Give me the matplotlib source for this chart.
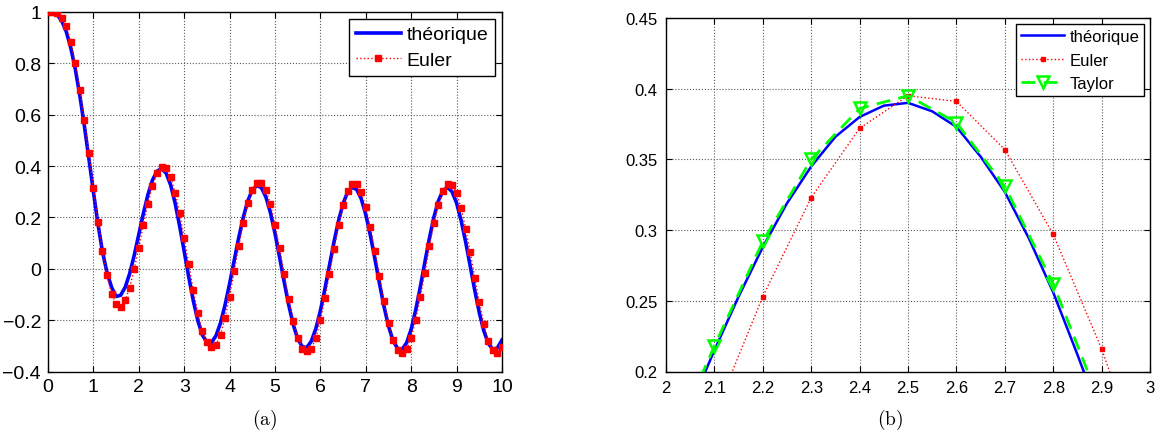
import numpy as np
import matplotlib
matplotlib.use("Agg")
import matplotlib.pyplot as plt

plt.rcParams['font.family'] = ['Liberation Sans', 'DejaVu Sans']
plt.rcParams['mathtext.fontset'] = 'cm'

# sampling times (step 0.1 on [0, 10])
t = np.linspace(0, 10, 101)

# theoretical solution
theo = [1.000, 0.999, 0.990, 0.966, 0.925, 0.862, 0.779, 0.676, 0.558, 0.430,    # 0.0 - 0.9
        0.300, 0.175, 0.066, -0.015, -0.072, -0.108, -0.103, -0.072, -0.018, 0.053,  # 1.0 - 1.9
        0.134, 0.215, 0.288, 0.345, 0.380, 0.390, 0.373, 0.327, 0.256, 0.166,    # 2.0 - 2.9
        0.068, -0.032, -0.124, -0.202, -0.258, -0.286, -0.287, -0.261, -0.211, -0.141,  # 3.x
        -0.058, 0.031, 0.120, 0.199, 0.264, 0.307, 0.324, 0.316, 0.279, 0.218,   # 4.x
        0.138, 0.046, -0.049, -0.139, -0.216, -0.273, -0.303, -0.307, -0.282, -0.233,  # 5.x
        -0.163, -0.078, 0.014, 0.105, 0.187, 0.254, 0.299, 0.317, 0.309, 0.272,  # 6.x
        0.211, 0.131, 0.039, -0.056, -0.146, -0.223, -0.280, -0.310, -0.314, -0.288,  # 7.x
        -0.235, -0.160, -0.071, 0.025, 0.118, 0.201, 0.265, 0.305, 0.317, 0.300,  # 8.x
        0.256, 0.188, 0.104, 0.010, -0.084, -0.171, -0.242, -0.291, -0.314, -0.308,  # 9.x
        -0.277]

# explicit Euler scheme
euler = [1.000, 1.000, 0.995, 0.978, 0.945, 0.884, 0.800, 0.698, 0.580, 0.450,
         0.313, 0.184, 0.068, -0.026, -0.098, -0.138, -0.147, -0.122, -0.073, 0.001,
         0.082, 0.169, 0.253, 0.323, 0.372, 0.395, 0.391, 0.357, 0.297, 0.216,
         0.119, 0.018, -0.083, -0.173, -0.244, -0.287, -0.306, -0.296, -0.256, -0.190,
         -0.108, -0.010, 0.087, 0.177, 0.256, 0.308, 0.336, 0.336, 0.308, 0.252,
         0.171, 0.080, -0.019, -0.118, -0.203, -0.269, -0.312, -0.322, -0.312, -0.269,
         -0.200, -0.113, -0.019, 0.078, 0.171, 0.249, 0.304, 0.330, 0.330, 0.299,
         0.240, 0.162, 0.070, -0.027, -0.126, -0.212, -0.277, -0.316, -0.329, -0.313,
         -0.268, -0.199, -0.110, -0.017, 0.087, 0.177, 0.249, 0.301, 0.330, 0.327,
         0.295, 0.236, 0.155, 0.065, -0.036, -0.131, -0.216, -0.281, -0.316, -0.329,
         -0.306]

# zoom (b): finer theoretical curve and Taylor scheme
t_fine = np.linspace(2, 3, 21)
theo_fine = [0.134, 0.175, 0.215, 0.253, 0.288, 0.319, 0.345, 0.366, 0.380, 0.388,
             0.390, 0.384, 0.373, 0.352, 0.327, 0.294, 0.256, 0.212, 0.166, 0.117, 0.068]
t_taylor = np.linspace(2, 3, 11)
taylor = [0.140, 0.218, 0.292, 0.350, 0.386, 0.395, 0.376, 0.331, 0.262, 0.175, 0.080]

xticks_a = np.arange(0, 11, 1)
yticks_a = [-0.4, -0.2, 0, 0.2, 0.4, 0.6, 0.8, 1]
yticklabels_a = ['\u22120.4', '\u22120.2', '0', '0.2', '0.4', '0.6', '0.8', '1']
xticks_b = [2, 2.1, 2.2, 2.3, 2.4, 2.5, 2.6, 2.7, 2.8, 2.9, 3]
xticklabels_b = ['2', '2.1', '2.2', '2.3', '2.4', '2.5', '2.6', '2.7', '2.8', '2.9', '3']
yticks_b = [0.2, 0.25, 0.3, 0.35, 0.4, 0.45]
yticklabels_b = ['0.2', '0.25', '0.3', '0.35', '0.4', '0.45']

BLUE = (0, 0, 1)
RED = (1, 0, 0)
GREEN = (0, 1, 0)

fig = plt.figure(figsize=(11.61, 4.39), dpi=100)
ax1 = fig.add_axes([48/1161, 66.5/439, 454/1161, 359.5/439])
ax2 = fig.add_axes([666/1161, 66.5/439, 484/1161, 353.5/439])

# (a)
ax1.plot(t, theo, color=BLUE, lw=2.6, label='théorique', zorder=3)
ax1.plot(t, euler, color=RED, ls=':', lw=1.0, marker='s', ms=4.5, mfc=RED, mec=RED,
         label='Euler', zorder=4)
ax1.set_xlim(0, 10)
ax1.set_ylim(-0.4, 1)
ax1.set_xticks(xticks_a)
ax1.set_yticks(yticks_a)
ax1.set_yticklabels(yticklabels_a)
ax1.tick_params(direction='in', top=True, right=True, length=4, labelsize=14, pad=5)
leg1 = ax1.legend(loc='upper right', fontsize=14, fancybox=False, framealpha=1,
                  edgecolor='black', handlelength=2.3, handletextpad=0.3,
                  borderaxespad=0.35, borderpad=0.36, labelspacing=0.4)
leg1.get_frame().set_linewidth(1.0)

# (b)
ax2.plot(t_fine, theo_fine, color=BLUE, lw=1.8, label='théorique', zorder=3)
ax2.plot(t, euler, color=RED, ls=':', lw=1.0, marker='s', ms=3.2, mfc=RED, mec=RED,
         label='Euler', zorder=4)
ax2.plot(t_taylor, taylor, color=GREEN, ls='--', lw=2.0, dashes=(5, 3), marker='v',
         ms=9, mfc='none', mec=GREEN, mew=1.8, label='Taylor', zorder=5)
ax2.set_xlim(2, 3)
ax2.set_ylim(0.2, 0.45)
ax2.set_xticks(xticks_b)
ax2.set_xticklabels(xticklabels_b)
ax2.set_yticks(yticks_b)
ax2.set_yticklabels(yticklabels_b)
ax2.tick_params(direction='in', top=True, right=True, length=4, labelsize=12, pad=6)
leg2 = ax2.legend(loc='upper right', fontsize=12, fancybox=False, framealpha=1,
                  edgecolor='black', handlelength=2.6, handletextpad=0.3,
                  borderaxespad=0.35, borderpad=0.3, labelspacing=0.52)
leg2.get_frame().set_linewidth(1.0)

for ax in (ax1, ax2):
    ax.grid(True, ls=':', color='0.35', lw=0.8)
    ax.set_axisbelow(True)
    for s in ax.spines.values():
        s.set_linewidth(1.0)

fig.text(265/1161, 19/439, r'$\mathrm{(a)}$', ha='center', va='center', fontsize=14)
fig.text(890/1161, 19/439, r'$\mathrm{(b)}$', ha='center', va='center', fontsize=14)

fig.savefig('out.png', dpi=100)
